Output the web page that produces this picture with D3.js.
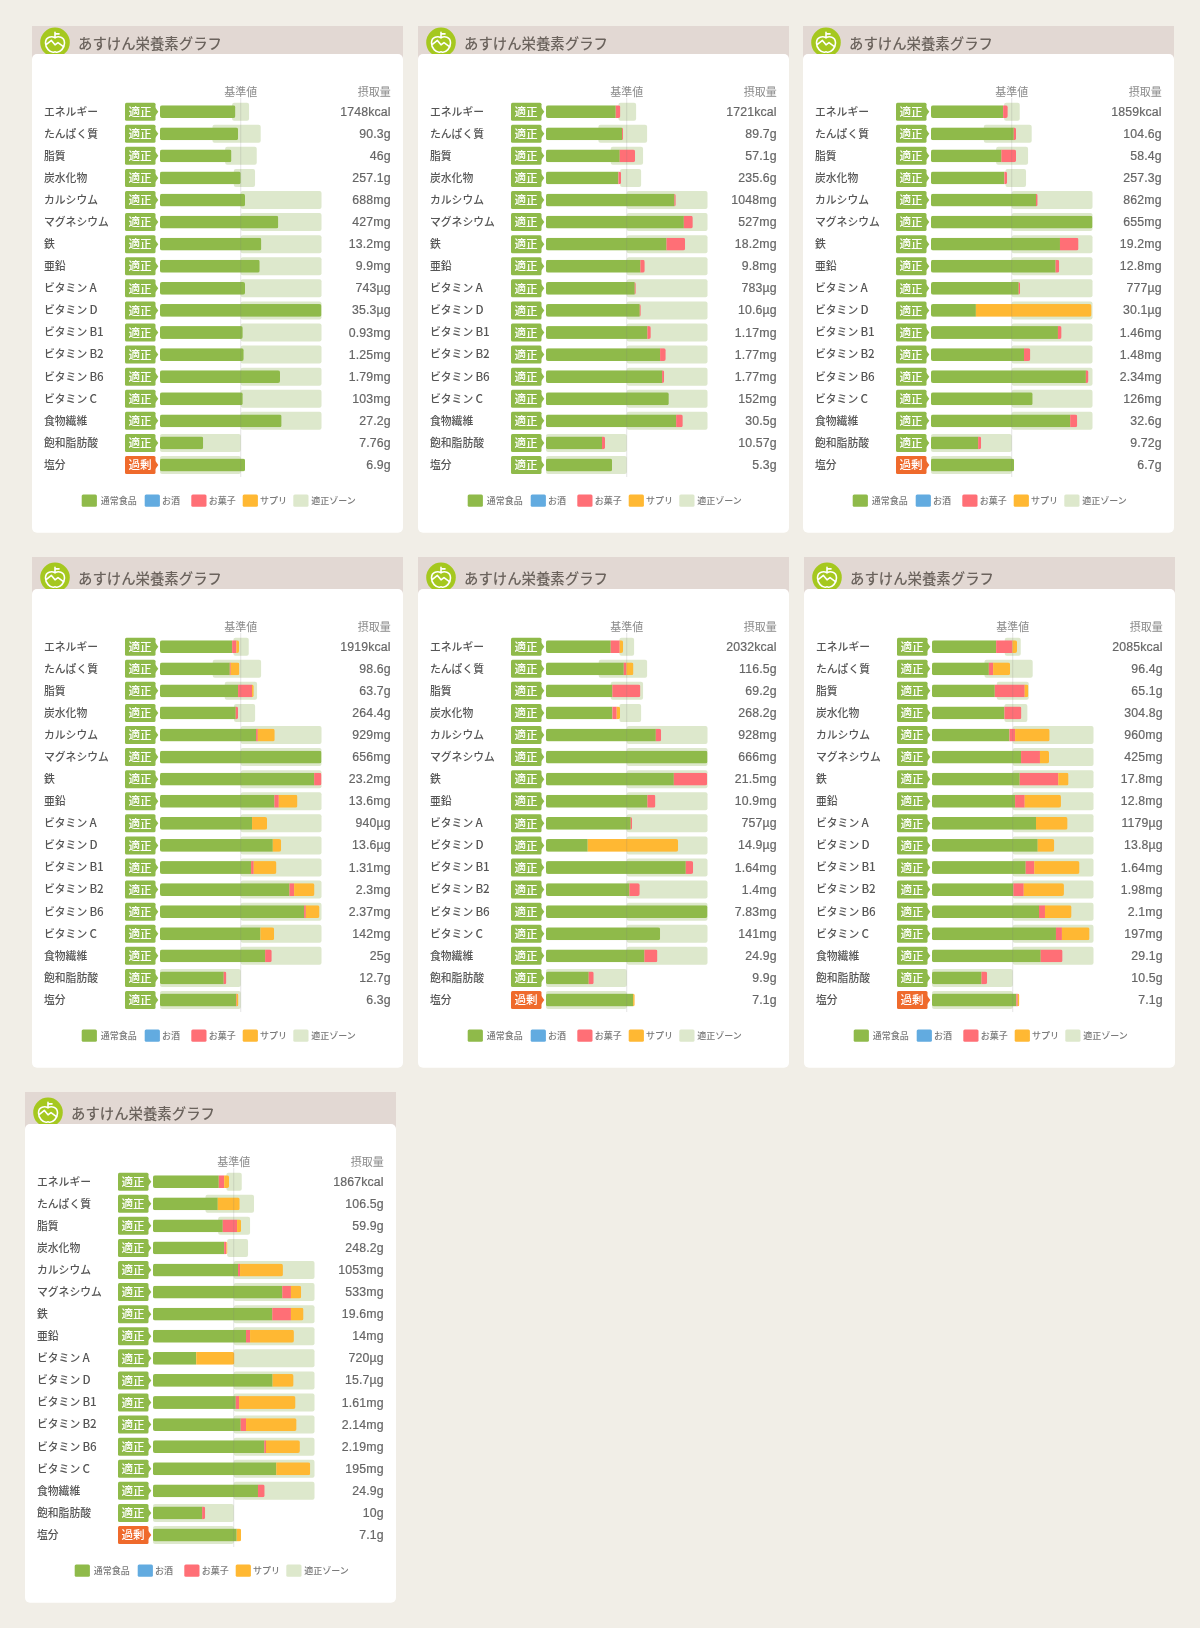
<!DOCTYPE html>
<html lang="ja">
<head>
<meta charset="utf-8">
<title>あすけん栄養素グラフ</title>
<script src="https://cdn.jsdelivr.net/npm/d3@7"></script>
<style>
html,body{margin:0;padding:0;background:#f1eee7;}
svg{display:block;filter:blur(.35px);}
text{font-family:"Noto Sans CJK JP","Noto Sans",sans-serif;}
.val{font-family:"Liberation Sans","Noto Sans CJK JP",sans-serif;letter-spacing:.15px;stroke-width:.2px;}
</style>
</head>
<body>
<svg id="chart" width="1200" height="1628"></svg>
<script>
const nutrients = ["エネルギー","たんぱく質","脂質","炭水化物","カルシウム","マグネシウム","鉄","亜鉛","ビタミンA","ビタミンD","ビタミンB1","ビタミンB2","ビタミンB6","ビタミンC","食物繊維","飽和脂肪酸","塩分"];
const chartTitle = "あすけん栄養素グラフ";
const legendItems = ["通常食品","お酒","お菓子","サプリ","適正ゾーン"];

// percent of the reference value; each list is the cumulative end of that segment
const normalEnds = [
 [93.4,96.7,88.5,100,105.3,146.5,125.5,123.5,105.3,200,102.5,103.7,148.6,102.5,150.6,53.5,105.3],
 [86.4,94.2,91.3,89.7,159,170.7,149.2,116.9,109.9,116.1,125.6,141.3,143.8,152.1,161.2,69.4,81.8],
 [89.3,102.5,87.2,90.9,130,200,159.7,154.3,108.6,55.6,157.2,115.2,191.8,125.9,172.4,58.4,102.9],
 [89.3,86.4,96.7,93.8,119,200,190.9,141.7,114,139.7,112.8,160.3,178.5,124.4,130.2,78.9,94.2],
 [80.2,96.3,82.2,82.2,136,200,158.3,125.6,104.9,51.7,173.1,103.3,200,141.3,121.9,52.9,107.9],
 [79.4,70.4,77.8,89.7,95.9,110.3,108.6,102.9,128.8,130.9,116,100.8,132.5,153.5,134.6,61.3,104.5],
 [81.5,80.2,86.4,88.1,105.3,160.1,147.7,115.2,53.5,148.1,102.5,108.6,137.9,152.7,130,60.9,103.7]
];
const snackEnds = [
 [93.4,96.7,88.5,100,105.3,146.5,125.5,123.5,105.3,200,102.5,103.7,148.6,102.5,150.6,53.5,105.3],
 [92.1,95.5,110.3,93,160.7,181.8,172.3,122.3,111.2,117.4,129.8,148.3,146.3,152.1,169.4,73.1,81.8],
 [95.1,105.3,105.3,94.2,132.1,200,182.7,158.8,110.3,55.6,161.7,123,195,125.9,181.1,62.1,102.9],
 [94.6,87.6,114,96.7,121.1,200,200,147.1,114,139.7,116.1,166.1,180.6,124.4,138.4,82.2,95],
 [91.3,99.6,116.9,87.6,142.6,200,199.6,135.5,106.6,51.7,182.2,116.1,200,141.3,138,59.1,107.9],
 [99.6,75.7,114.8,110.7,102.9,133.7,156.4,114.8,128.8,130.9,126.7,113.6,139.9,160.9,161.7,68.3,106.2],
 [88.1,80.2,104.1,90.9,107.8,170.8,170.8,120.2,53.5,148.1,106.6,115.2,139.9,152.7,138.3,64.6,103.7]
];
const supplementEnds = [
 [93.4,96.7,88.5,100,105.3,146.5,125.5,123.5,105.3,200,102.5,103.7,148.6,102.5,150.6,53.5,105.3],
 [92.1,95.5,110.3,93,160.7,181.8,172.3,122.3,111.2,117.4,129.8,148.3,146.3,152.1,169.4,73.1,81.8],
 [95.1,105.3,105.3,94.2,132.1,200,182.7,158.8,110.3,198.8,161.7,123,195,125.9,181.1,62.1,102.9],
 [97.9,98.3,116.1,96.7,142.1,200,200,170.2,132.6,150,144.2,191.3,197.5,141.3,138.4,82.2,97.1],
 [95.5,108.3,116.9,91.7,142.6,200,199.6,135.5,106.6,163.6,182.2,116.1,200,141.3,138,59.1,109.9],
 [105.3,96.7,119.3,110.7,145.7,144.9,169.1,159.7,167.9,151.4,182.7,163.4,172.8,195.1,161.7,68.3,108.2],
 [94.2,107.4,109.1,92.2,160.9,183.5,186.4,174.5,100.8,174.1,176.5,177.8,181.9,194.7,138.3,64.6,109.1]
];
// adequate zone, percent of reference value
const zoneLow = [
 [89.3,65,80.7,91.4,100,100,100,100,100,100,100,100,100,100,100,0,0],
 [89.7,64.9,80.2,91.7,100,100,100,100,100,100,100,100,100,100,100,0,0],
 [90.5,65.4,80.7,92.2,100,100,100,100,100,100,100,100,100,100,100,0,0],
 [90.9,65.3,80.2,91.7,100,100,100,100,100,100,100,100,100,100,100,0,0],
 [90.9,65.3,80.2,90.9,100,100,100,100,100,100,100,100,100,100,100,0,0],
 [90.1,65,80.2,89.7,100,100,100,100,100,100,100,100,100,100,100,0,0],
 [90.9,65,80.7,91.8,100,100,100,100,100,100,100,100,100,100,100,0,0]
];
const zoneHigh = [
 [110.3,124.7,119.8,117.7,200,200,200,200,200,200,200,200,200,200,200,100,100],
 [111.6,125.2,120.2,117.8,200,200,200,200,200,200,200,200,200,200,200,100,100],
 [109.9,124.7,120.2,117.7,200,200,200,200,200,200,200,200,200,200,200,100,100],
 [109.9,125.2,120.2,117.8,200,200,200,200,200,200,200,200,200,200,200,100,100],
 [109.1,125.2,120.2,117.8,200,200,200,200,200,200,200,200,200,200,200,100,100],
 [109.9,124.7,119.8,118.1,200,200,200,200,200,200,200,200,200,200,200,100,100],
 [109.9,125.1,120.2,117.7,200,200,200,200,200,200,200,200,200,200,200,100,100]
];
const intakeLabels = [
 ["1748kcal","90.3g","46g","257.1g","688mg","427mg","13.2mg","9.9mg","743µg","35.3µg","0.93mg","1.25mg","1.79mg","103mg","27.2g","7.76g","6.9g"],
 ["1721kcal","89.7g","57.1g","235.6g","1048mg","527mg","18.2mg","9.8mg","783µg","10.6µg","1.17mg","1.77mg","1.77mg","152mg","30.5g","10.57g","5.3g"],
 ["1859kcal","104.6g","58.4g","257.3g","862mg","655mg","19.2mg","12.8mg","777µg","30.1µg","1.46mg","1.48mg","2.34mg","126mg","32.6g","9.72g","6.7g"],
 ["1919kcal","98.6g","63.7g","264.4g","929mg","656mg","23.2mg","13.6mg","940µg","13.6µg","1.31mg","2.3mg","2.37mg","142mg","25g","12.7g","6.3g"],
 ["2032kcal","116.5g","69.2g","268.2g","928mg","666mg","21.5mg","10.9mg","757µg","14.9µg","1.64mg","1.4mg","7.83mg","141mg","24.9g","9.9g","7.1g"],
 ["2085kcal","96.4g","65.1g","304.8g","960mg","425mg","17.8mg","12.8mg","1179µg","13.8µg","1.64mg","1.98mg","2.1mg","197mg","29.1g","10.5g","7.1g"],
 ["1867kcal","106.5g","59.9g","248.2g","1053mg","533mg","19.6mg","14mg","720µg","15.7µg","1.61mg","2.14mg","2.19mg","195mg","24.9g","10g","7.1g"]
];
const saltStatus = ["過剰","適正","過剰","適正","過剰","過剰","過剰"];

// layout (page placement of each card), separate from the values
const cardLayout = [
 {dx:0,dy:0,head:28},{dx:386,dy:0,head:28},{dx:771,dy:0,head:28},
 {dx:0,dy:535,head:32},{dx:386,dy:535,head:32},{dx:772,dy:535,head:32},
 {dx:-7,dy:1070,head:32}
];
const colors = {bg:"#f1eee7",head:"#e2d8d3",icon:"#a5c81f",normal:"#8fba4a",alcohol:"#62abe0",snack:"#ff6f76",supp:"#ffb833",zone:"#dde8cc",over:"#ef6a2c",title:"#6b635d",label:"#555555",sub:"#8a8a8a",val:"#666666",leg:"#7a7a7a"};
const legendColors = [colors.normal,colors.alcohol,colors.snack,colors.supp,colors.zone];

const x = d3.scaleLinear().domain([0,200]).range([160,321.5]);
const y = d3.scalePoint().domain(d3.range(nutrients.length)).range([111.7,465]);
const legendX = d3.scaleOrdinal().domain(legendItems).range([81.7,144.7,191.3,242.7,293.3]);
const legendTextX = d3.scaleOrdinal().domain(legendItems).range([100.7,162,208.7,260,311.3]);

const svg = d3.select("#chart");
const defs = svg.append("defs");
svg.append("rect").attr("width",1200).attr("height",1628).attr("fill",colors.bg);

cardLayout.forEach((c,p)=>{
  const g = svg.append("g").attr("transform",`translate(${c.dx},${c.dy})`);
  // header
  g.append("rect").attr("x",32).attr("y",54-c.head).attr("width",371).attr("height",c.head+8).attr("fill",colors.head);
  const ic = g.append("g").attr("transform","translate(55,42.4)");
  ic.append("circle").attr("r",14.8).attr("fill",colors.icon);
  ic.append("path").attr("fill","none").attr("stroke","#fff").attr("stroke-width",1.6).attr("stroke-linejoin","round").attr("stroke-linecap","round")
    .attr("d","M0,-4.5C-3,-6.5 -9.5,-6 -9.5,0.5C-9.5,6 -5,9.8 -2,9.8C-1,9.8 -.5,9.3 0,9.3C.5,9.3 1,9.8 2,9.8C5,9.8 9.5,6 9.5,.5C9.5,-6 3,-6.5 0,-4.5ZM0,-4.5V-10M0,-8.5H4M-8.6,2L-3.6,-2L0,2.4L3,.2L8.4,4.2");
  g.append("text").attr("x",78).attr("y",43.4).attr("dy",".36em").attr("font-size",14.4).attr("font-weight",500).attr("fill",colors.title).text(chartTitle);
  // card
  g.append("rect").attr("x",32).attr("y",54).attr("width",371).attr("height",478.7).attr("rx",5).attr("fill","#fff");
  g.append("text").attr("x",x(100)).attr("y",92).attr("dy",".36em").attr("text-anchor","middle").attr("font-size",11).attr("fill",colors.sub).text("基準値");
  g.append("text").attr("x",390.7).attr("y",92).attr("dy",".36em").attr("text-anchor","end").attr("font-size",11).attr("fill",colors.sub).text("摂取量");

  const rows = g.selectAll("g.row").data(nutrients).join("g").attr("class","row")
    .attr("transform",(d,i)=>`translate(0,${y(i)})`);
  // nutrient name: the Latin suffix of vitamin names sits a little apart, as in the source
  rows.append("text").attr("x",44).attr("dy",".36em").attr("font-size",10.8).attr("font-weight",500).attr("fill",colors.label)
    .each(function(d){
      const m = d.match(/^(ビタミン)(.+)$/);
      const t = d3.select(this);
      if(!m){ t.text(d); return; }
      t.append("tspan").text(m[1]);
      t.append("tspan").attr("dx",2.2).attr("font-size",11.6).text(m[2]);
    });
  // status badge
  const stat = i => i===16 ? saltStatus[p] : "適正";
  const badgeCol = i => stat(i)==="過剰" ? colors.over : colors.normal;
  rows.append("rect").attr("x",125).attr("y",-9).attr("width",30.5).attr("height",18).attr("rx",1.5).attr("fill",(d,i)=>badgeCol(i));
  rows.append("path").attr("d","M155,-4.5L158.3,0L155,4.5Z").attr("fill",(d,i)=>badgeCol(i));
  rows.append("text").attr("x",140).attr("dy",".36em").attr("text-anchor","middle").attr("font-size",11.6).attr("font-weight",500).attr("fill","#fff").text((d,i)=>stat(i));
  // zone
  rows.append("rect").attr("x",(d,i)=>x(zoneLow[p][i])).attr("y",-9).attr("height",18).attr("rx",2)
    .attr("width",(d,i)=>x(zoneHigh[p][i])-x(zoneLow[p][i])).attr("fill",colors.zone);
  // stacked intake segments
  rows.each(function(d,i){
    const id = `clip-${p}-${i}`;
    defs.append("clipPath").attr("id",id).append("rect").attr("x",x(0)).attr("y",-6.4).attr("height",12.8).attr("rx",2).attr("width",x(supplementEnds[p][i])-x(0));
    const bar = d3.select(this).append("g").attr("clip-path",`url(#${id})`);
    const segs = [[0,normalEnds[p][i],colors.normal],[normalEnds[p][i],snackEnds[p][i],colors.snack],[snackEnds[p][i],supplementEnds[p][i],colors.supp]];
    bar.selectAll("rect").data(segs.filter(s=>s[1]>s[0])).join("rect")
      .attr("x",s=>x(s[0])).attr("y",-6.4).attr("height",12.8).attr("width",s=>x(s[1])-x(s[0])).attr("fill",s=>s[2]);
  });
  rows.append("text").attr("class","val").attr("x",390.7).attr("dy",".33em").attr("text-anchor","end").attr("font-size",12.3).attr("fill",colors.val).attr("stroke",colors.val).text((d,i)=>intakeLabels[p][i]);
  // reference line
  g.append("line").attr("x1",x(100)).attr("x2",x(100)).attr("y1",98).attr("y2",477).attr("stroke","#787878").attr("stroke-opacity",.2).attr("stroke-width",1);
  // legend
  legendItems.forEach((t,k)=>{
    g.append("rect").attr("x",legendX(t)).attr("y",494.4).attr("width",15.2).attr("height",12.4).attr("rx",1.5).attr("fill",legendColors[k]);
    g.append("text").attr("x",legendTextX(t)).attr("y",500.7).attr("dy",".36em").attr("font-size",9).attr("font-weight",500).attr("fill",colors.leg).text(t);
  });
});
</script>
</body>
</html>
